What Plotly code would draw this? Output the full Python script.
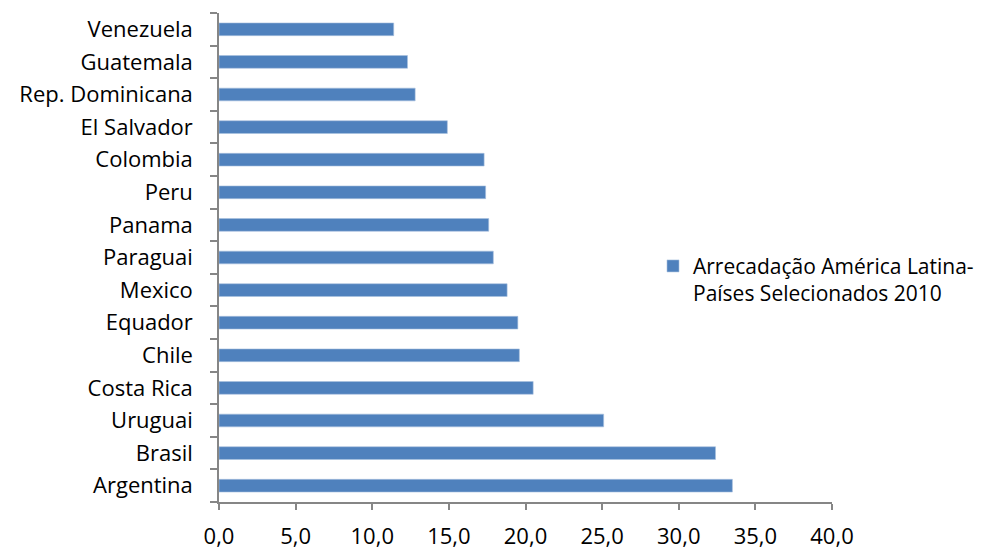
import plotly.graph_objects as go

# Tax revenue (% of GDP) for selected Latin American countries, 2010
paises = [
    "Argentina", "Brasil", "Uruguai", "Costa Rica", "Chile", "Equador",
    "Mexico", "Paraguai", "Panama", "Peru", "Colombia", "El Salvador",
    "Rep. Dominicana", "Guatemala", "Venezuela",
]
arrecadacao = [
    33.5, 32.4, 25.1, 20.5, 19.6, 19.5,
    18.8, 17.9, 17.6, 17.4, 17.3, 14.9,
    12.8, 12.3, 11.4,
]
serie_nome = "Arrecadação América Latina-<br>Países Selecionados 2010"
x_ticks = [0, 5, 10, 15, 20, 25, 30, 35, 40]

FONT = "'Open Sans', sans-serif"
FONT_SIZE = 22
AXIS_GRAY = "#868686"

fig = go.Figure(
    go.Bar(
        y=paises,
        x=arrecadacao,
        orientation="h",
        name=serie_nome,
        marker=dict(color="#4F81BD", line=dict(color="#A9C1DF", width=0.6)),
        showlegend=True,
    )
)

fig.update_layout(
    width=1008,
    height=549,
    margin=dict(l=219, r=176, t=13, b=47),
    paper_bgcolor="white",
    plot_bgcolor="white",
    separators=",.",
    bargap=0.61,
    font=dict(family=FONT, size=FONT_SIZE, color="black"),
    legend=dict(
        x=0.708,
        y=0.524,
        xanchor="left",
        yanchor="top",
        valign="top",
        itemwidth=30,
        font=dict(family=FONT, size=21, color="black"),
        bgcolor="rgba(0,0,0,0)",
    ),
)

fig.update_xaxes(
    range=[0, 40],
    tickvals=x_ticks,
    tickformat=".1f",
    automargin=False,
    showgrid=False,
    zeroline=False,
    showline=True,
    linecolor=AXIS_GRAY,
    linewidth=1.5,
    ticks="outside",
    ticklen=6,
    tickwidth=1.5,
    tickcolor=AXIS_GRAY,
    ticklabelstandoff=8,
    tickfont=dict(family=FONT, size=FONT_SIZE, color="black"),
)

fig.update_yaxes(
    categoryorder="array",
    categoryarray=paises,
    range=[-0.5, len(paises) - 0.5],
    tickson="boundaries",
    automargin=False,
    showgrid=False,
    zeroline=False,
    showline=True,
    linecolor=AXIS_GRAY,
    linewidth=1.5,
    ticks="outside",
    ticklen=7,
    tickwidth=1.5,
    tickcolor=AXIS_GRAY,
    ticklabelstandoff=20,
    tickfont=dict(family=FONT, size=FONT_SIZE, color="black"),
)

fig.write_html("out.html")
